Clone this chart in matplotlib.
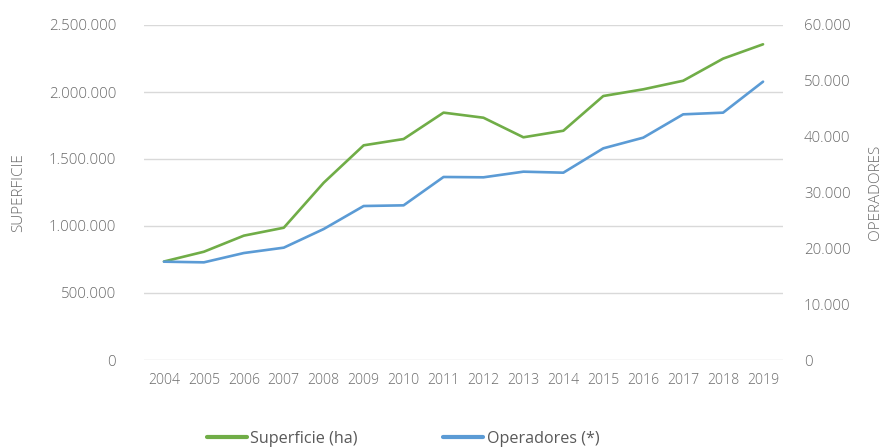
import matplotlib
matplotlib.use("Agg")
import matplotlib.pyplot as plt
from matplotlib.ticker import FuncFormatter

years = ["2004", "2005", "2006", "2007", "2008", "2009", "2010", "2011",
         "2012", "2013", "2014", "2015", "2016", "2017", "2018", "2019"]
superficie = [735000, 808000, 928000, 987000, 1323000, 1602000, 1649000, 1846000,
              1808000, 1662000, 1711000, 1970000, 2020000, 2084000, 2249000, 2356000]
operadores = [17610, 17490, 19160, 20120, 23460, 27580, 27700, 32780,
              32720, 33730, 33550, 37910, 39820, 44000, 44300, 49850]

left_ticks = [0, 500000, 1000000, 1500000, 2000000, 2500000]
right_ticks = [0, 10000, 20000, 30000, 40000, 50000, 60000]

plt.rcParams['font.family'] = ['Open Sans', 'DejaVu Sans']
txt = '#6b6b6b'
green = '#70ad47'
blue = '#5b9bd5'

fig = plt.figure(figsize=(8.85, 4.47), dpi=100)
ax = fig.add_axes([144/885, 1-360/447, (783-144)/885, (360-25)/447])
ax2 = ax.twinx()

x = list(range(len(years)))
l1, = ax.plot(x, superficie, color=green, lw=1.9, solid_capstyle='round', label='Superficie (ha)')
l2, = ax2.plot(x, operadores, color=blue, lw=1.9, solid_capstyle='round', label='Operadores (*)')

fmt = FuncFormatter(lambda v, p: f"{int(v):,}".replace(",", "."))
ax.set_ylim(0, 2500000)
ax.set_yticks(left_ticks)
ax.yaxis.set_major_formatter(fmt)
ax2.set_ylim(0, 60000)
ax2.set_yticks(right_ticks)
ax2.yaxis.set_major_formatter(fmt)
ax.set_xlim(-0.5, len(years) - 0.5)
ax.set_xticks(x)
ax.set_xticklabels(years)

ax.grid(axis='y', color='#d9d9d9', lw=1)
ax.set_axisbelow(True)
for a in (ax, ax2):
    for s in a.spines.values():
        s.set_visible(False)
ax.tick_params(axis='y', length=0, pad=20, labelsize=10.8, labelcolor=txt)
ax.tick_params(axis='x', length=0, pad=9, labelsize=10.2, labelcolor=txt)
ax2.tick_params(axis='y', length=0, pad=15, labelsize=10.8, labelcolor=txt)
for lab in ax.get_yticklabels() + ax.get_xticklabels() + ax2.get_yticklabels():
    lab.set_fontweight('light')

ax.set_ylabel('SUPERFICIE', color=txt, fontsize=11, fontweight='light')
ax.yaxis.set_label_coords((26-144)/639, 0.5)
ax2.set_ylabel('OPERADORES', color=txt, fontsize=11, fontweight='light', rotation=90)
ax2.yaxis.set_label_coords((868-144)/639, 0.5)

leg = fig.legend(handles=[l1, l2], loc='center', bbox_to_anchor=(403/885, 1-439/447),
                 ncol=2, frameon=False, fontsize=11.6, handlelength=2.5,
                 handletextpad=0.2, columnspacing=5.3, labelcolor='#595959')
for h in leg.legend_handles:
    h.set_linewidth(3)

fig.savefig('out.png', dpi=100)
